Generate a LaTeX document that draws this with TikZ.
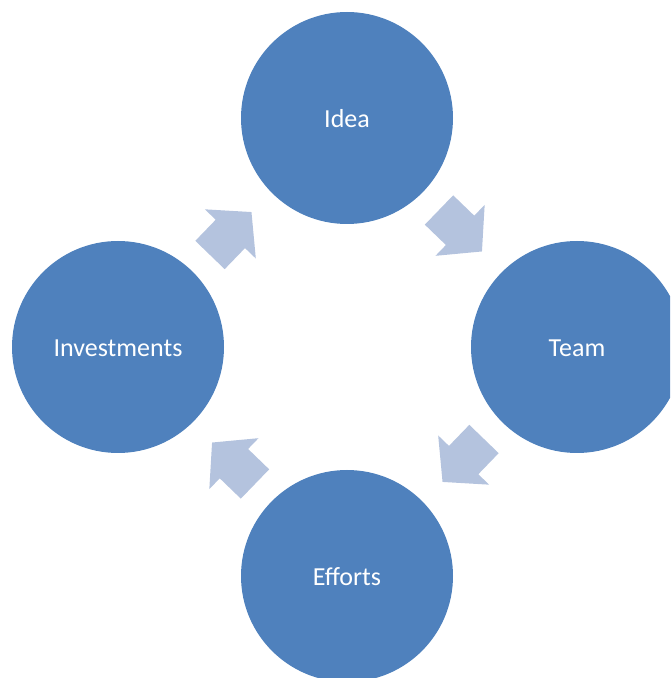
\documentclass[tikz,border=0pt]{standalone}
\usepackage{fontspec}
\setmainfont{Carlito}
\definecolor{discblue}{HTML}{4F81BD}
\definecolor{arrowblue}{HTML}{B4C3DE}
\begin{document}
\begin{tikzpicture}[x=1pt,y=1pt,
  disc/.style={circle, fill=discblue, draw=none, minimum size=212pt, inner sep=0pt,
    text=white, font=\fontsize{26}{31}\selectfont, text height=19pt, text depth=0pt},
  cyclearrow/.style={fill=arrowblue, draw=none}]
\useasboundingbox (0,0) rectangle (670,678);
\clip (0,0) rectangle (670,678);
\coordinate (hub) at (347,331);
% the four stages
\node[disc] (idea)  at (347,560) {Idea};
\node[disc] (team)  at (577,331) {Team};
\node[disc] (effort) at (347,102) {Efforts};
\node[disc] (invest) at (118,331) {Investments};
% block arrows between the stages, turned a quarter each
\foreach \k in {0,1,2,3}{
  \begin{scope}[shift={(hub)}, rotate=-90*\k]
    \fill[cyclearrow, shift={(92,137)}, rotate=-44]
      (0,20.4) -- (29.3,20.4) -- (29.3,35.4) -- (59.7,0)
      -- (29.3,-35.4) -- (29.3,-20.4) -- (0,-20.4) -- cycle;
  \end{scope}
}
\end{tikzpicture}
\end{document}
